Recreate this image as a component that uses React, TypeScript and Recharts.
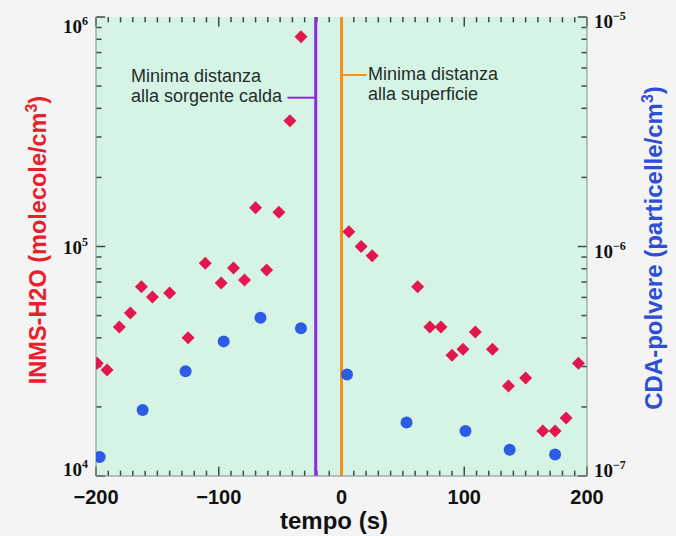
import React from 'react';
import { ScatterChart, Scatter, XAxis, YAxis, ReferenceLine } from 'recharts';

// INMS water density (molecole/cm3) vs time (s)
const inmsTime = [-199, -191, -181, -172, -163, -154, -140, -125, -111, -98, -88, -79, -70, -61, -51, -42, -33,
  6, 16, 25, 62, 72, 81, 90, 99, 109, 123, 136, 150, 164, 174, 183, 193];
const inmsDensity = [31000, 29000, 44600, 51300, 66800, 60300, 62700, 40000, 84500, 69300, 80600, 71500, 147600, 79000, 141000, 353000, 820000,
  116000, 99900, 91200, 66800, 44600, 44600, 33600, 35700, 42400, 35700, 24700, 26700, 15700, 15700, 17900, 31000];

// CDA dust density (particelle/cm3) vs time (s)
const cdaTime = [-197, -162, -127, -96, -66, -33, 4.5, 53, 101, 137, 174];
const cdaDensity = [1.21e-7, 1.94e-7, 2.86e-7, 3.86e-7, 4.89e-7, 4.4e-7, 2.77e-7, 1.71e-7, 1.57e-7, 1.30e-7, 1.24e-7];

// axes
const xDomain = [-200, 200];
const xMinorStep = 10;
const leftDomain = [1e4, 1e6];
const rightDomain = [1e-7, 1e-5];
const leftDecades = [1e4, 1e5];
const rightDecades = [1e-7, 1e-6];
const leftLabels: Record<string, string> = { '10000': '4', '100000': '5', '1000000': '6' };
const rightLabels = ['−7', '−6', '−5'];

// annotations
const hotSourceTime = -21;
const surfaceTime = 0;
const hotSourceText = ['Minima distanza', 'alla sorgente calda'];
const surfaceText = ['Minima distanza', 'alla superficie'];

const xTicks: number[] = [];
for (let v = xDomain[0]; v <= xDomain[1]; v += xMinorStep) xTicks.push(v);
const logTicks = (decades: number[], top: number) => {
  const out: number[] = [];
  decades.forEach((d) => { for (let m = 1; m < 10; m++) out.push(d * m); });
  out.push(top);
  return out;
};
const leftTicks = logTicks(leftDecades, leftDomain[1]);
const rightTicks = logTicks(rightDecades, rightDomain[1]);

const inmsData = inmsTime.map((t, i) => ({ t, v: inmsDensity[i] }));
const cdaData = cdaTime.map((t, i) => ({ t, v: cdaDensity[i] }));

const RED = '#e2174f';
const BLUE = '#2c5ce6';
const PURPLE = '#8c2ae6';
const ORANGE = '#f5901e';
const FRAME = '#7d8d85';
const TICK = '#3f4a45';
const TEXT = '#1e2e2a';
const SANS = 'Liberation Sans, Arial, sans-serif';
const TICKFONT = 'Liberation Serif, serif';

const MARGIN = { top: 17, right: 29, bottom: 0, left: 36 };
const Y_AXIS_W = 60;
const X_AXIS_H = 60;
const CHART_W = 676;
const CHART_H = 536;

// inward tick lengths, in axis units (major / minor)
const X_TICK_LEN = [7.5, 4.5];        // seconds
const Y_TICK_FACTOR = [1.1, 1.055];   // multiplicative on log axes

const isMajorLog = (v: number) => {
  const e = Math.log10(v);
  return Math.abs(e - Math.round(e)) < 1e-6;
};

const BottomTick = (props: any) => {
  const { x, y, payload } = props;
  const v = payload.value;
  if (v % 100 !== 0) return <g />;
  return (
    <text x={x} y={y + 28} textAnchor="middle" fontSize={20} fontWeight="bold" fill="#111" fontFamily={SANS}>
      {v < 0 ? '−' + Math.abs(v) : String(v)}
    </text>
  );
};

const LeftTick = (props: any) => {
  const { x, y, payload } = props;
  const v = payload.value;
  const exp = leftLabels[String(Math.round(v))];
  if (!isMajorLog(v) || !exp) return <g />;
  const dy = v >= 1e6 ? 16 : v >= 1e5 ? 7 : 0;
  return (
    <text x={x - 8} y={y + dy} textAnchor="end" fontSize={19} fontWeight="bold" fill="#111" fontFamily={TICKFONT}>
      <tspan>10</tspan>
      <tspan dy={-8} fontSize={12}>{exp}</tspan>
    </text>
  );
};

const RightTick = (props: any) => {
  const { x, y, payload } = props;
  const v = payload.value;
  if (!isMajorLog(v)) return <g />;
  const idx = Math.round(Math.log10(v)) + 7;
  const dy = v >= 9e-7 ? 11 : 1;
  return (
    <text x={x + 7} y={y + dy} textAnchor="start" fontSize={19} fontWeight="bold" fill="#111" fontFamily={TICKFONT}>
      <tspan>10</tspan>
      <tspan dy={-8} fontSize={12}>{rightLabels[idx]}</tspan>
    </text>
  );
};

const Diamond = (props: any) => {
  const { cx, cy } = props;
  const r = 6.5;
  return <path d={`M${cx},${cy - r}L${cx + r},${cy}L${cx},${cy + r}L${cx - r},${cy}Z`} fill={RED} />;
};

const Dot = (props: any) => {
  const { cx, cy } = props;
  return <circle cx={cx} cy={cy} r={6} fill={BLUE} />;
};

export default function App() {
  const plotLeft = MARGIN.left + Y_AXIS_W;
  const plotTop = MARGIN.top;
  const plotW = CHART_W - MARGIN.left - MARGIN.right - 2 * Y_AXIS_W;
  const plotH = CHART_H - MARGIN.top - MARGIN.bottom - X_AXIS_H;

  const tickLines: React.ReactNode[] = [];
  xTicks.forEach((v, i) => {
    const f = Y_TICK_FACTOR[v % 100 === 0 ? 0 : 1];
    tickLines.push(<ReferenceLine key={`xb${i}`} yAxisId="left" ifOverflow="visible" stroke={TICK} strokeWidth={1.5}
      segment={[{ x: v, y: leftDomain[0] * 1.001 }, { x: v, y: leftDomain[0] * f }]} />);
    tickLines.push(<ReferenceLine key={`xt${i}`} yAxisId="left" ifOverflow="visible" stroke={TICK} strokeWidth={1.5}
      segment={[{ x: v, y: leftDomain[1] / f }, { x: v, y: leftDomain[1] / 1.001 }]} />);
  });
  leftTicks.forEach((v, i) => {
    const len = X_TICK_LEN[isMajorLog(v) ? 0 : 1];
    tickLines.push(<ReferenceLine key={`yl${i}`} yAxisId="left" ifOverflow="visible" stroke={TICK} strokeWidth={1.5}
      segment={[{ x: xDomain[0] + 0.2, y: v }, { x: xDomain[0] + len, y: v }]} />);
  });
  rightTicks.forEach((v, i) => {
    const len = X_TICK_LEN[isMajorLog(v) ? 0 : 1];
    tickLines.push(<ReferenceLine key={`yr${i}`} yAxisId="right" ifOverflow="visible" stroke={TICK} strokeWidth={1.5}
      segment={[{ x: xDomain[1] - len, y: v }, { x: xDomain[1] - 0.2, y: v }]} />);
  });

  return (
    <div style={{ position: 'absolute', left: 0, top: 0, width: CHART_W, height: CHART_H, background: '#f4f4f4' }}>
      <div style={{ position: 'absolute', left: plotLeft, top: plotTop, width: plotW, height: plotH, background: '#d6f4e5' }} />
      <div style={{ position: 'absolute', left: 0, top: 0 }}>
        <ScatterChart width={CHART_W} height={CHART_H} margin={MARGIN}>
          <XAxis type="number" dataKey="t" domain={xDomain} ticks={xTicks} interval={0} allowDataOverflow
            height={X_AXIS_H} tickSize={0} tickMargin={0} tickLine={false} axisLine={{ stroke: FRAME }} tick={<BottomTick />} />
          <XAxis xAxisId="top" orientation="top" type="number" dataKey="t" domain={xDomain} ticks={xTicks} interval={0}
            allowDataOverflow height={0} tickSize={0} tickMargin={0} tickLine={false} axisLine={{ stroke: FRAME }} tick={false} />
          <YAxis yAxisId="left" type="number" dataKey="v" scale="log" domain={leftDomain} ticks={leftTicks} interval={0}
            allowDataOverflow width={Y_AXIS_W} tickSize={0} tickMargin={0} tickLine={false} axisLine={{ stroke: FRAME }} tick={<LeftTick />} />
          <YAxis yAxisId="right" orientation="right" type="number" dataKey="v" scale="log" domain={rightDomain} ticks={rightTicks}
            interval={0} allowDataOverflow width={Y_AXIS_W} tickSize={0} tickMargin={0} tickLine={false} axisLine={{ stroke: FRAME }} tick={<RightTick />} />

          {tickLines}

          <ReferenceLine yAxisId="left" x={hotSourceTime} stroke={PURPLE} strokeWidth={3} />
          <ReferenceLine yAxisId="left" x={surfaceTime} stroke={ORANGE} strokeWidth={3} />
          <ReferenceLine yAxisId="left" stroke={PURPLE} strokeWidth={2}
            segment={[{ x: -44, y: 4.45e5 }, { x: hotSourceTime, y: 4.45e5 }]} />
          <ReferenceLine yAxisId="left" stroke={ORANGE} strokeWidth={2}
            segment={[{ x: surfaceTime, y: 5.59e5 }, { x: 20.5, y: 5.59e5 }]} />

          <Scatter yAxisId="left" data={inmsData} shape={<Diamond />} isAnimationActive={false} />
          <Scatter yAxisId="right" data={cdaData} shape={<Dot />} isAnimationActive={false} />

          <text transform="translate(46,240) rotate(-90)" textAnchor="middle" fontSize={23.5} fontWeight="bold" fill="#e8202a" fontFamily={SANS}>
            <tspan>INMS-H2O (molecole/cm</tspan><tspan dy={-9} fontSize={16}>3</tspan><tspan dy={9}>)</tspan>
          </text>
          <text transform="translate(662,248) rotate(-90)" textAnchor="middle" fontSize={24} fontWeight="bold" fill="#2d4fd6" fontFamily={SANS}>
            <tspan>CDA-polvere (particelle/cm</tspan><tspan dy={-9} fontSize={16}>3</tspan><tspan dy={9}>)</tspan>
          </text>
          <text x={334} y={529} textAnchor="middle" fontSize={24} fontWeight="bold" fill="#111" fontFamily={SANS}>tempo (s)</text>
        </ScatterChart>
      </div>
      <svg width={CHART_W} height={CHART_H} style={{ position: 'absolute', left: 0, top: 0, pointerEvents: 'none' }}>
        <text x={131} y={82} fontSize={18} fill={TEXT} fontFamily={SANS}>{hotSourceText[0]}</text>
        <text x={131} y={102} fontSize={18} fill={TEXT} fontFamily={SANS}>{hotSourceText[1]}</text>
        <text x={368} y={80} fontSize={18} fill={TEXT} fontFamily={SANS}>{surfaceText[0]}</text>
        <text x={368} y={100} fontSize={18} fill={TEXT} fontFamily={SANS}>{surfaceText[1]}</text>
      </svg>
    </div>
  );
}
